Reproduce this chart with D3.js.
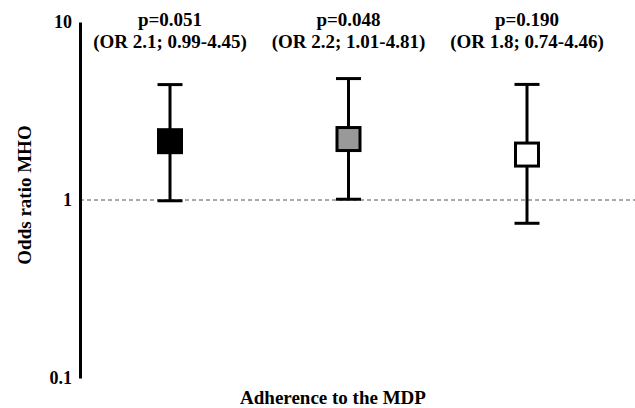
<!DOCTYPE html>
<html>
<head>
<meta charset="utf-8">
<script src="https://cdn.jsdelivr.net/npm/d3@7"></script>
<style>
body { margin:0; background:#fff; }
text { font-family: "Liberation Serif", "Times New Roman", serif; font-weight:bold; fill:#000; }
</style>
</head>
<body>
<div id="chart"></div>
<script>
var width = 635, height = 408;

// data
var groups = ["low", "medium", "high"];
var oddsRatio = [2.14, 2.2, 1.8];
var ciLow = [0.99, 1.01, 0.74];
var ciHigh = [4.45, 4.81, 4.46];
var pValues = ["p=0.051", "p=0.048", "p=0.190"];
var orLabels = ["(OR 2.1; 0.99-4.45)", "(OR 2.2; 1.01-4.81)", "(OR 1.8; 0.74-4.46)"];
var fills = ["#000000", "#999999", "#ffffff"];
var yTicks = [0.1, 1, 10];

var svg = d3.select("#chart").append("svg")
    .attr("width", width)
    .attr("height", height);

var x = d3.scalePoint().domain(groups).range([170, 527]);
var y = d3.scaleLog().domain([0.1, 10]).range([378, 22]);

// reference line at OR = 1
svg.append("line")
    .attr("x1", 80).attr("x2", width)
    .attr("y1", y(1)).attr("y2", y(1))
    .attr("stroke", "#555")
    .attr("stroke-width", 1)
    .attr("stroke-dasharray", "4,3");

// y axis
var yAxis = d3.axisLeft(y).tickValues(yTicks).tickSize(0).tickPadding(8)
    .tickFormat(function(d){ return d; });
var ga = svg.append("g").attr("transform", "translate(80,0)").call(yAxis);
ga.select(".domain").attr("stroke", "#000").attr("stroke-width", 3);
ga.selectAll("text").style("font-size", "18px").style("font-family", "Liberation Serif").style("font-weight", "bold");

var pts = groups.map(function(g, i){
    return {g: g, or: oddsRatio[i], lo: ciLow[i], hi: ciHigh[i], p: pValues[i], lab: orLabels[i], fill: fills[i]};
});

var grp = svg.selectAll(".pt").data(pts).enter().append("g").attr("class", "pt");

grp.append("line")
    .attr("x1", function(d){ return x(d.g); })
    .attr("x2", function(d){ return x(d.g); })
    .attr("y1", function(d){ return y(d.lo); })
    .attr("y2", function(d){ return y(d.hi); })
    .attr("stroke", "#000").attr("stroke-width", 3);

[["lo"], ["hi"]].forEach(function(k){
    grp.append("line")
        .attr("x1", function(d){ return x(d.g) - 12.5; })
        .attr("x2", function(d){ return x(d.g) + 12.5; })
        .attr("y1", function(d){ return y(d[k[0]]); })
        .attr("y2", function(d){ return y(d[k[0]]); })
        .attr("stroke", "#000").attr("stroke-width", 3);
});

grp.append("rect")
    .attr("x", function(d){ return x(d.g) - 11.5; })
    .attr("y", function(d){ return y(d.or) - 11.5; })
    .attr("width", 23).attr("height", 23)
    .attr("fill", function(d){ return d.fill; })
    .attr("stroke", "#000").attr("stroke-width", 3);

grp.append("text")
    .attr("x", function(d){ return x(d.g); })
    .attr("y", 26)
    .attr("text-anchor", "middle")
    .style("font-size", "19px")
    .text(function(d){ return d.p; });

grp.append("text")
    .attr("x", function(d){ return x(d.g); })
    .attr("y", 48)
    .attr("text-anchor", "middle")
    .style("font-size", "19px")
    .text(function(d){ return d.lab; });

// axis titles
svg.append("text")
    .attr("transform", "translate(31,195) rotate(-90)")
    .attr("text-anchor", "middle")
    .style("font-size", "19px")
    .text("Odds ratio MHO");

svg.append("text")
    .attr("x", 333).attr("y", 404)
    .attr("text-anchor", "middle")
    .style("font-size", "19px")
    .text("Adherence to the MDP");
</script>
</body>
</html>
